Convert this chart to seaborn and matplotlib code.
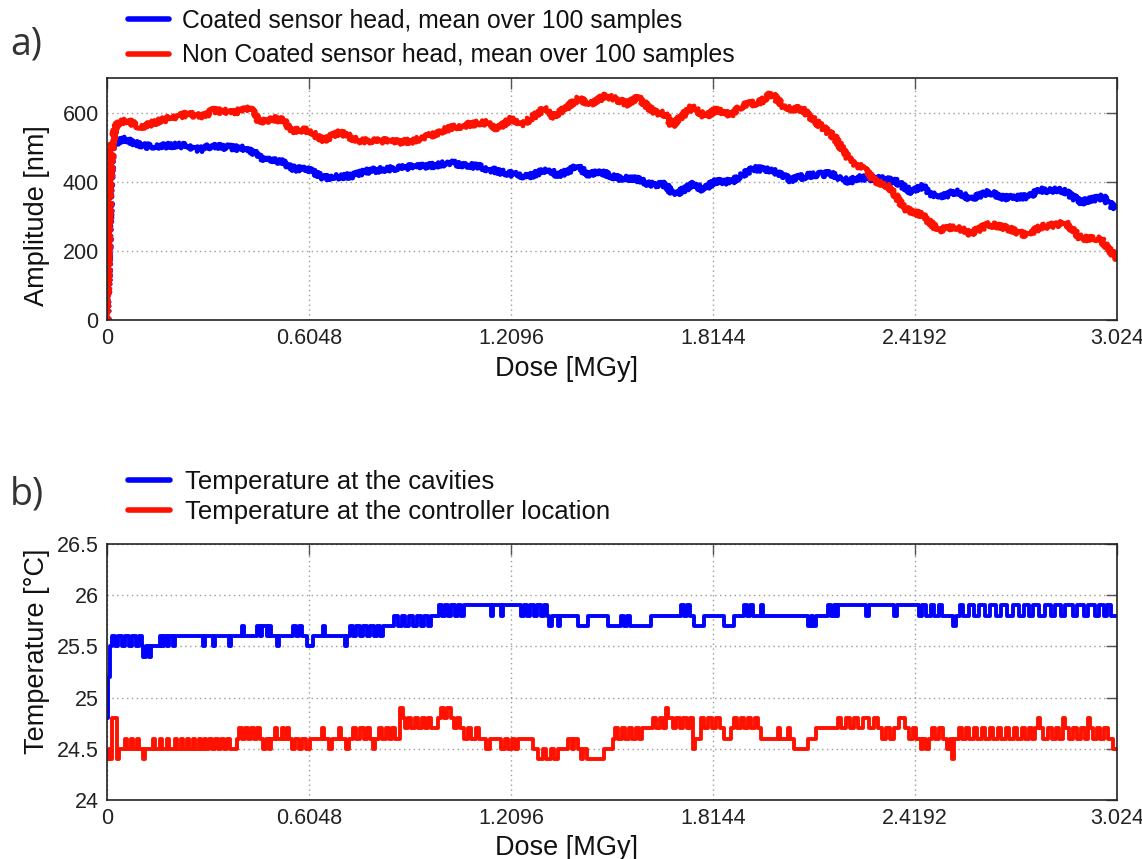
import numpy as np
import pandas as pd
import matplotlib
matplotlib.use("Agg")
import matplotlib.pyplot as plt
import seaborn as sns

# ---------------- data ----------------
dose_ticks = [0, 0.6048, 1.2096, 1.8144, 2.4192, 3.024]
dose_tick_labels = ["0", "0.6048", "1.2096", "1.8144", "2.4192", "3.024"]

amp_ticks = [0, 200, 400, 600]
temp_ticks = [24, 24.5, 25, 25.5, 26, 26.5]
temp_tick_labels = ["24", "24.5", "25", "25.5", "26", "26.5"]

coated_dose = [0.000, 0.006, 0.015, 0.054, 0.108, 0.228, 0.279, 0.309, 0.408, 0.438,
               0.468, 0.519, 0.558, 0.609, 0.648, 0.738, 0.780, 0.879, 0.978, 1.029,
               1.110, 1.179, 1.260, 1.320, 1.350, 1.410, 1.440, 1.479, 1.527, 1.584,
               1.626, 1.671, 1.698, 1.758, 1.785, 1.815, 1.869, 1.935, 1.989, 2.046,
               2.100, 2.166, 2.223, 2.244, 2.322, 2.364, 2.409, 2.442, 2.487, 2.541,
               2.586, 2.640, 2.685, 2.751, 2.796, 2.862, 2.916, 2.982, 3.009, 3.024]
coated_amp = [0, 250, 511, 522, 503, 505, 493, 503, 496, 486,
              462, 460, 438, 433, 411, 418, 431, 441, 447, 454,
              444, 428, 414, 438, 418, 444, 420, 428, 411, 408,
              392, 392, 361, 394, 375, 400, 400, 438, 433, 406,
              418, 423, 400, 411, 408, 400, 370, 386, 351, 373,
              351, 370, 354, 356, 375, 375, 341, 356, 329, 325]

noncoated_dose = [0.000, 0.006, 0.015, 0.030, 0.060, 0.099, 0.180, 0.240, 0.288, 0.318,
                  0.378, 0.429, 0.459, 0.498, 0.528, 0.549, 0.600, 0.648, 0.699, 0.750,
                  0.819, 0.879, 0.918, 0.960, 1.020, 1.068, 1.128, 1.170, 1.209, 1.248,
                  1.308, 1.338, 1.410, 1.449, 1.494, 1.560, 1.587, 1.638, 1.671, 1.692,
                  1.752, 1.791, 1.824, 1.869, 1.902, 1.956, 1.989, 2.034, 2.079, 2.124,
                  2.178, 2.223, 2.265, 2.298, 2.343, 2.388, 2.442, 2.487, 2.541, 2.586,
                  2.640, 2.697, 2.751, 2.796, 2.871, 2.916, 2.973, 3.015, 3.024]
noncoated_amp = [0, 300, 511, 568, 577, 558, 582, 596, 589, 606,
                 601, 611, 572, 582, 577, 548, 549, 521, 543, 519,
                 519, 515, 518, 531, 553, 563, 572, 553, 582, 568,
                 611, 587, 640, 625, 649, 625, 645, 601, 596, 563,
                 617, 587, 608, 592, 621, 630, 654, 611, 611, 572,
                 529, 462, 438, 404, 385, 322, 303, 260, 269, 250,
                 277, 265, 245, 269, 281, 236, 236, 188, 180]

cav_dose = [0.000, 0.003, 0.009, 0.015, 0.024, 0.033, 0.045, 0.054, 0.066, 0.075,
            0.087, 0.096, 0.105, 0.108, 0.117, 0.126, 0.132, 0.159, 0.165, 0.171,
            0.180, 0.186, 0.198, 0.204, 0.288, 0.294, 0.318, 0.324, 0.366, 0.372,
            0.405, 0.411, 0.450, 0.459, 0.465, 0.480, 0.486, 0.492, 0.510, 0.516,
            0.558, 0.567, 0.576, 0.585, 0.600, 0.618, 0.648, 0.654, 0.714, 0.720,
            0.729, 0.738, 0.747, 0.756, 0.765, 0.777, 0.786, 0.798, 0.807, 0.816,
            0.825, 0.858, 0.870, 0.882, 0.891, 0.903, 0.915, 0.927, 0.939, 0.948,
            0.960, 0.969, 0.993, 1.002, 1.011, 1.020, 1.029, 1.041, 1.050, 1.059,
            1.068, 1.149, 1.155, 1.179, 1.185, 1.239, 1.248, 1.257, 1.266, 1.278,
            1.287, 1.299, 1.308, 1.317, 1.323, 1.332, 1.350, 1.356, 1.410, 1.440,
            1.500, 1.539, 1.548, 1.557, 1.566, 1.578, 1.629, 1.719, 1.728, 1.737,
            1.746, 1.758, 1.788, 1.848, 1.878, 1.908, 1.917, 1.926, 1.935, 1.959,
            1.965, 2.100, 2.109, 2.115, 2.124, 2.160, 2.169, 2.178, 2.184, 2.190,
            2.271, 2.280, 2.355, 2.364, 2.430, 2.439, 2.451, 2.466, 2.475, 2.490,
            2.499, 2.532, 2.541, 2.553, 2.562, 2.580, 2.595, 2.610, 2.628, 2.643,
            2.661, 2.676, 2.694, 2.712, 2.730, 2.745, 2.760, 2.772, 2.790, 2.808,
            2.826, 2.838, 2.856, 2.868, 2.892, 2.904, 2.925, 2.937, 2.958, 2.970,
            2.985, 2.994, 3.006, 3.024]
cav_temp = [24.8, 25.2, 25.5, 25.6, 25.5, 25.6, 25.5, 25.6, 25.5, 25.6,
            25.5, 25.6, 25.5, 25.4, 25.5, 25.4, 25.5, 25.6, 25.5, 25.6,
            25.5, 25.6, 25.5, 25.6, 25.5, 25.6, 25.5, 25.6, 25.5, 25.6,
            25.7, 25.6, 25.7, 25.6, 25.7, 25.6, 25.7, 25.6, 25.5, 25.6,
            25.7, 25.6, 25.7, 25.6, 25.5, 25.6, 25.7, 25.6, 25.5, 25.6,
            25.7, 25.6, 25.7, 25.6, 25.7, 25.6, 25.7, 25.6, 25.7, 25.6,
            25.7, 25.8, 25.7, 25.8, 25.7, 25.8, 25.7, 25.8, 25.7, 25.8,
            25.7, 25.8, 25.9, 25.8, 25.9, 25.8, 25.9, 25.8, 25.9, 25.8,
            25.9, 25.8, 25.9, 25.8, 25.9, 25.8, 25.9, 25.8, 25.9, 25.8,
            25.9, 25.8, 25.9, 25.8, 25.7, 25.8, 25.7, 25.8, 25.7, 25.8,
            25.7, 25.8, 25.7, 25.8, 25.7, 25.7, 25.8, 25.9, 25.8, 25.9,
            25.8, 25.7, 25.8, 25.7, 25.8, 25.9, 25.8, 25.9, 25.8, 25.9,
            25.8, 25.7, 25.8, 25.7, 25.8, 25.9, 25.8, 25.9, 25.8, 25.9,
            25.8, 25.9, 25.8, 25.9, 25.8, 25.9, 25.8, 25.9, 25.8, 25.9,
            25.8, 25.7, 25.8, 25.9, 25.8, 25.9, 25.8, 25.9, 25.8, 25.9,
            25.8, 25.9, 25.8, 25.9, 25.8, 25.9, 25.8, 25.9, 25.8, 25.9,
            25.8, 25.9, 25.8, 25.9, 25.8, 25.9, 25.8, 25.9, 25.8, 25.9,
            25.8, 25.9, 25.8, 25.8]

ctrl_dose = [0.000, 0.006, 0.009, 0.015, 0.030, 0.036, 0.054, 0.060, 0.072, 0.078,
             0.090, 0.096, 0.108, 0.114, 0.138, 0.144, 0.159, 0.165, 0.180, 0.186,
             0.204, 0.210, 0.222, 0.228, 0.240, 0.246, 0.258, 0.264, 0.276, 0.282,
             0.291, 0.297, 0.306, 0.315, 0.324, 0.333, 0.342, 0.351, 0.360, 0.369,
             0.390, 0.396, 0.405, 0.414, 0.423, 0.432, 0.441, 0.450, 0.459, 0.468,
             0.477, 0.486, 0.492, 0.504, 0.510, 0.525, 0.531, 0.540, 0.546, 0.555,
             0.564, 0.576, 0.585, 0.597, 0.609, 0.645, 0.651, 0.666, 0.675, 0.696,
             0.702, 0.717, 0.726, 0.738, 0.747, 0.756, 0.768, 0.777, 0.786, 0.795,
             0.801, 0.813, 0.822, 0.834, 0.843, 0.852, 0.861, 0.876, 0.885, 0.891,
             0.900, 0.909, 0.921, 0.930, 0.942, 0.951, 0.960, 0.969, 0.990, 0.999,
             1.008, 1.017, 1.029, 1.038, 1.047, 1.056, 1.068, 1.080, 1.089, 1.104,
             1.113, 1.134, 1.146, 1.179, 1.191, 1.200, 1.212, 1.221, 1.230, 1.275,
             1.290, 1.305, 1.314, 1.329, 1.338, 1.350, 1.380, 1.392, 1.398, 1.410,
             1.419, 1.425, 1.437, 1.488, 1.515, 1.521, 1.530, 1.542, 1.551, 1.563,
             1.572, 1.584, 1.593, 1.602, 1.635, 1.644, 1.656, 1.665, 1.674, 1.680,
             1.695, 1.704, 1.716, 1.725, 1.737, 1.746, 1.755, 1.761, 1.779, 1.788,
             1.800, 1.812, 1.824, 1.836, 1.848, 1.869, 1.878, 1.887, 1.899, 1.908,
             1.920, 1.929, 1.941, 1.950, 1.959, 2.010, 2.016, 2.040, 2.046, 2.058,
             2.100, 2.124, 2.190, 2.199, 2.214, 2.226, 2.238, 2.250, 2.265, 2.280,
             2.295, 2.307, 2.319, 2.331, 2.343, 2.355, 2.370, 2.388, 2.400, 2.412,
             2.421, 2.436, 2.442, 2.451, 2.460, 2.469, 2.478, 2.490, 2.502, 2.514,
             2.523, 2.529, 2.535, 2.550, 2.559, 2.571, 2.580, 2.595, 2.604, 2.619,
             2.628, 2.643, 2.652, 2.667, 2.676, 2.691, 2.700, 2.715, 2.724, 2.739,
             2.748, 2.760, 2.769, 2.778, 2.787, 2.793, 2.802, 2.817, 2.829, 2.841,
             2.850, 2.862, 2.868, 2.880, 2.892, 2.904, 2.916, 2.928, 2.937, 2.943,
             2.952, 2.964, 2.973, 2.985, 2.997, 3.012, 3.024]
ctrl_temp = [24.4, 24.5, 24.4, 24.8, 24.4, 24.5, 24.6, 24.5, 24.6, 24.5,
             24.6, 24.5, 24.4, 24.5, 24.6, 24.5, 24.6, 24.5, 24.6, 24.5,
             24.6, 24.5, 24.6, 24.5, 24.6, 24.5, 24.6, 24.5, 24.6, 24.5,
             24.6, 24.5, 24.6, 24.5, 24.6, 24.5, 24.6, 24.5, 24.6, 24.5,
             24.6, 24.7, 24.6, 24.7, 24.6, 24.7, 24.6, 24.7, 24.6, 24.5,
             24.6, 24.5, 24.6, 24.7, 24.6, 24.7, 24.6, 24.7, 24.6, 24.5,
             24.6, 24.5, 24.6, 24.5, 24.6, 24.7, 24.6, 24.5, 24.6, 24.7,
             24.6, 24.5, 24.6, 24.7, 24.6, 24.7, 24.6, 24.7, 24.6, 24.5,
             24.6, 24.7, 24.6, 24.7, 24.6, 24.7, 24.6, 24.9, 24.8, 24.7,
             24.8, 24.7, 24.8, 24.7, 24.8, 24.7, 24.8, 24.7, 24.8, 24.9,
             24.8, 24.9, 24.8, 24.7, 24.8, 24.7, 24.6, 24.7, 24.6, 24.7,
             24.6, 24.5, 24.6, 24.5, 24.6, 24.5, 24.6, 24.5, 24.6, 24.5,
             24.4, 24.5, 24.4, 24.5, 24.4, 24.5, 24.6, 24.5, 24.6, 24.5,
             24.4, 24.5, 24.4, 24.5, 24.6, 24.7, 24.6, 24.7, 24.6, 24.7,
             24.6, 24.7, 24.6, 24.7, 24.8, 24.7, 24.8, 24.7, 24.9, 24.8,
             24.7, 24.8, 24.7, 24.8, 24.7, 24.8, 24.5, 24.6, 24.8, 24.7,
             24.8, 24.7, 24.8, 24.7, 24.6, 24.7, 24.8, 24.7, 24.8, 24.7,
             24.8, 24.7, 24.8, 24.7, 24.6, 24.7, 24.6, 24.7, 24.6, 24.5,
             24.6, 24.7, 24.8, 24.7, 24.8, 24.7, 24.8, 24.7, 24.8, 24.7,
             24.8, 24.7, 24.6, 24.7, 24.6, 24.7, 24.8, 24.7, 24.6, 24.7,
             24.6, 24.5, 24.6, 24.5, 24.6, 24.7, 24.6, 24.7, 24.6, 24.5,
             24.6, 24.4, 24.6, 24.7, 24.6, 24.7, 24.6, 24.7, 24.6, 24.7,
             24.6, 24.7, 24.6, 24.7, 24.6, 24.7, 24.6, 24.7, 24.6, 24.7,
             24.6, 24.7, 24.6, 24.7, 24.8, 24.7, 24.6, 24.7, 24.6, 24.7,
             24.6, 24.8, 24.7, 24.6, 24.7, 24.6, 24.7, 24.6, 24.8, 24.7,
             24.6, 24.7, 24.6, 24.7, 24.6, 24.5, 24.5]

labels_a = ["Coated sensor head, mean over 100 samples",
            "Non Coated sensor head, mean over 100 samples"]
labels_b = ["Temperature at the cavities",
            "Temperature at the controller location"]

# ---------------- style ----------------
sns.set_theme(style="white")
plt.rcParams['font.family'] = ['Liberation Sans', 'DejaVu Sans']
plt.rcParams['axes.edgecolor'] = '#222222'
plt.rcParams['axes.linewidth'] = 1.2

BLUE = "#0000ff"
RED = "#ff1100"

W, H = 1142, 859
fig = plt.figure(figsize=(W / 100, H / 100), dpi=100)
ax1 = fig.add_axes([107 / W, 1 - 320 / H, 1010 / W, 242 / H])
ax2 = fig.add_axes([107 / W, 1 - 800 / H, 1010 / W, 256 / H])

df_a1 = pd.DataFrame({"dose": coated_dose, "amp": coated_amp})
df_a2 = pd.DataFrame({"dose": noncoated_dose, "amp": noncoated_amp})
sns.lineplot(data=df_a1, x="dose", y="amp", ax=ax1, color=BLUE, lw=3.4,
             estimator=None, sort=False, label=labels_a[0])
sns.lineplot(data=df_a2, x="dose", y="amp", ax=ax1, color=RED, lw=3.4,
             estimator=None, sort=False, label=labels_a[1])
for ln in ax1.get_lines():
    ln.set_sketch_params(scale=2.6, length=1.8, randomness=3.0)

df_b1 = pd.DataFrame({"dose": cav_dose, "temp": cav_temp})
df_b2 = pd.DataFrame({"dose": ctrl_dose, "temp": ctrl_temp})
sns.lineplot(data=df_b1, x="dose", y="temp", ax=ax2, color=BLUE, lw=2.8,
             estimator=None, sort=False, drawstyle="steps-post", label=labels_b[0])
sns.lineplot(data=df_b2, x="dose", y="temp", ax=ax2, color=RED, lw=2.8,
             estimator=None, sort=False, drawstyle="steps-post", label=labels_b[1])

for ax in (ax1, ax2):
    ax.set_xlim(0, 3.024)
    ax.set_xticks(dose_ticks)
    ax.set_xticklabels(dose_tick_labels)
    ax.grid(True, linestyle=(0, (1, 2.5)), color="#9a9a9a", linewidth=1.0)
    ax.tick_params(direction="in", length=8, width=1, top=True, right=True,
                   labelsize=15.5, labelcolor="#222222", color="#555555", pad=6)
    for s in ax.spines.values():
        s.set_visible(True)
        s.set_color("#222222")

ax1.set_ylim(0, 700)
ax1.set_yticks(amp_ticks)
ax2.set_ylim(24, 26.5)
ax2.set_yticks(temp_ticks)
ax2.set_yticklabels(temp_tick_labels)

lab_fs = 19.5
ax1.set_xlabel("Dose [MGy]", fontsize=lab_fs, color="#111111")
ax1.xaxis.set_label_coords(0.455, -0.15)
ax1.set_ylabel("Amplitude [nm]", fontsize=lab_fs, color="#111111")
ax1.yaxis.set_label_coords(-0.056, 0.43)
ax2.set_xlabel("Dose [MGy]", fontsize=lab_fs, color="#111111")
ax2.xaxis.set_label_coords(0.455, -0.135)
ax2.set_ylabel("Temperature [°C]", fontsize=lab_fs, color="#111111")
ax2.yaxis.set_label_coords(-0.056, 0.58)

leg_kw = dict(loc="upper left", bbox_transform=fig.transFigure, frameon=False,
              handlelength=1.65, handletextpad=0.55, borderpad=0, borderaxespad=0)
l1 = ax1.legend(bbox_to_anchor=(128 / W, 1 - 9 / H), fontsize=17.8,
                labelspacing=0.42, **leg_kw)
l2 = ax2.legend(bbox_to_anchor=(128 / W, 1 - 470 / H), fontsize=18.5,
                labelspacing=0.22, **leg_kw)
for lg in (l1, l2):
    for h in lg.get_lines():
        h.set_linewidth(4.0)
        h.set_sketch_params(None)
    for t in lg.get_texts():
        t.set_color("#111111")

fig.text(10 / W, 1 - 45 / H, "a)", fontsize=27, family=["Open Sans", "DejaVu Sans"],
         color="#333333", va="center", ha="left")
fig.text(10 / W, 1 - 495 / H, "b)", fontsize=27, family=["Open Sans", "DejaVu Sans"],
         color="#333333", va="center", ha="left")

fig.savefig("out.png", dpi=100, facecolor="white")
